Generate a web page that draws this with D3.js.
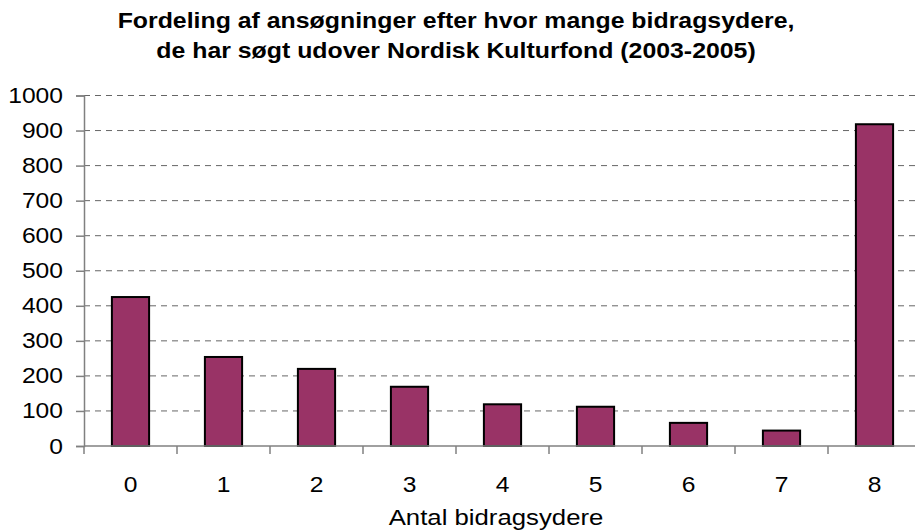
<!DOCTYPE html>
<html>
<head>
<meta charset="utf-8">
<script src="https://cdn.jsdelivr.net/npm/d3@7"></script>
<style>
  body { margin: 0; background: #fff; }
  svg text { font-family: Arial, "Liberation Sans", sans-serif; }
</style>
</head>
<body>
<div id="vizcont"></div>
<script>
// data
var categories = ["0", "1", "2", "3", "4", "5", "6", "7", "8"];
var counts = [425, 254, 220, 169, 119, 112, 66, 44, 918];
var yTicks = [0, 100, 200, 300, 400, 500, 600, 700, 800, 900, 1000];
var titleLines = ["Fordeling af ansøgninger efter hvor mange bidragsydere,",
                  "de har søgt udover Nordisk Kulturfond (2003-2005)"];
var xTitle = "Antal bidragsydere";

var W = 915, H = 530;
var margin = {top: 95.5, right: -6, bottom: 84, left: 84};
var width = W - margin.left - margin.right;
var height = H - margin.top - margin.bottom;
var stretch = "scale(1.12,1)";   // text in the original is a bit wide

var svg = d3.select("#vizcont")
    .append("svg")
    .attr("width", W)
    .attr("height", H);

var g = svg.append("g")
    .attr("transform", "translate(" + margin.left + "," + margin.top + ")");

var x = d3.scaleBand()
    .domain(categories)
    .range([0, width])
    .paddingInner(0.6)
    .paddingOuter(0.3);

var y = d3.scaleLinear()
    .domain([0, 1000])
    .range([height, 0]);

// dashed gridlines
g.selectAll("line.grid")
    .data(yTicks.filter(function(d) { return d > 0; }))
    .enter().append("line")
    .attr("class", "grid")
    .attr("x1", 0)
    .attr("x2", width)
    .attr("y1", function(d) { return y(d); })
    .attr("y2", function(d) { return y(d); })
    .attr("stroke", "#666")
    .attr("stroke-width", 1)
    .attr("stroke-dasharray", "6,5");

// bars
g.selectAll("rect.bar")
    .data(counts)
    .enter().append("rect")
    .attr("class", "bar")
    .attr("x", function(d, i) { return x(categories[i]); })
    .attr("y", function(d) { return y(d); })
    .attr("width", x.bandwidth())
    .attr("height", function(d) { return height - y(d); })
    .style("fill", "#993366")
    .style("stroke", "#000")
    .style("stroke-width", 2);

// y axis
var yAxis = g.append("g")
    .call(d3.axisLeft(y).tickValues(yTicks).tickSize(8).tickFormat(d3.format("d")));
yAxis.select(".domain").attr("stroke", "#808080").attr("stroke-width", 1.5);
yAxis.selectAll(".tick line").attr("stroke", "#808080").attr("stroke-width", 1.5);
yAxis.selectAll(".tick text")
    .attr("x", 0)
    .attr("transform", "translate(-21,0) " + stretch)
    .style("font-size", "22px")
    .attr("fill", "#000");

// x axis, tick marks sit between categories
var step = x.step();
var xAxis = g.append("g")
    .attr("transform", "translate(0," + height + ")");
xAxis.append("line")
    .attr("x1", 0).attr("x2", width)
    .attr("stroke", "#808080").attr("stroke-width", 1.5);
xAxis.selectAll("line.tk")
    .data(d3.range(categories.length + 1))
    .enter().append("line")
    .attr("class", "tk")
    .attr("x1", function(i) { return i * step; })
    .attr("x2", function(i) { return i * step; })
    .attr("y1", 0).attr("y2", 8)
    .attr("stroke", "#808080").attr("stroke-width", 1.5);
xAxis.selectAll("text")
    .data(categories)
    .enter().append("text")
    .attr("transform", function(d) {
        return "translate(" + (x(d) + x.bandwidth() / 2) + ",46) " + stretch; })
    .attr("text-anchor", "middle")
    .style("font-size", "22px")
    .text(function(d) { return d; });

// axis title
svg.append("text")
    .attr("transform", "translate(496,525) " + stretch)
    .attr("text-anchor", "middle")
    .style("font-size", "23px")
    .text(xTitle);

// chart title
svg.selectAll("text.title")
    .data(titleLines)
    .enter().append("text")
    .attr("class", "title")
    .attr("transform", function(d, i) {
        return "translate(456," + (28 + i * 30) + ") scale(1.13,1)"; })
    .attr("text-anchor", "middle")
    .style("font-size", "22px")
    .style("font-weight", "bold")
    .text(function(d) { return d; });
</script>
</body>
</html>
